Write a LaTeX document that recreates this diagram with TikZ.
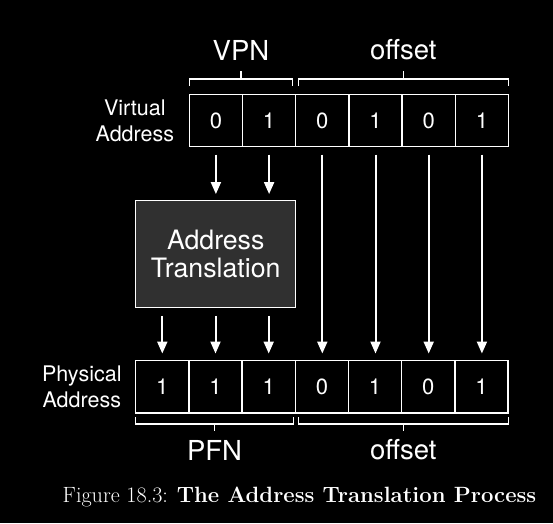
\documentclass[tikz,border=0pt]{standalone}
\usepackage{fontspec}
\newfontfamily\helv{TeX Gyre Heros}
\usetikzlibrary{arrows.meta,positioning}
\definecolor{boxgray}{HTML}{303030}

\begin{document}
\begin{tikzpicture}[x=1pt,y=-1pt,
		bit/.style={draw=white,line width=1.3pt,outer sep=0pt,minimum width=53.2pt,minimum height=52.4pt,inner sep=0pt,text=white,font=\helv\fontsize{22}{22}\selectfont},
		side/.style={text=white,align=center,inner sep=0pt,font=\helv\fontsize{21.5}{26}\selectfont},
		field/.style={text=white,font=\helv\fontsize{27.5}{27.5}\selectfont},
		brace/.style={draw=white,line width=1.3pt},
		flow/.style={draw=white,line width=2pt,-{Triangle[length=12pt,width=10pt]}}]
		
		\fill[black] (0,0) rectangle (553,523);
		\useasboundingbox (0,0) rectangle (553,523);
		
		% virtual address
		\node[bit] (v1) at (215.9,120.5) {0};
		\node[bit,right=0pt of v1] (v2) {1};
		\node[bit,right=0pt of v2] (v3) {0};
		\node[bit,right=0pt of v3] (v4) {1};
		\node[bit,right=0pt of v4] (v5) {0};
		\node[bit,right=0pt of v5] (v6) {1};
		\node[side,left=15pt of v1] (va) {Virtual\\Address};
		
		% physical address
		\node[bit] (p1) at (162.3,386.7) {1};
		\node[bit,right=0pt of p1] (p2) {1};
		\node[bit,right=0pt of p2] (p3) {1};
		\node[bit,right=0pt of p3] (p4) {0};
		\node[bit,right=0pt of p4] (p5) {1};
		\node[bit,right=0pt of p5] (p6) {0};
		\node[bit,right=0pt of p6] (p7) {1};
		\node[side,left=14pt of p1] (pa) {Physical\\Address};
		
		% translation box
		\node[draw=white,line width=1.3pt,fill=boxgray,minimum width=160pt,minimum height=106.6pt,text=white,align=center,
		font=\helv\fontsize{26.7}{28}\selectfont] (tr) at (215.7,254) {Address\\Translation};
		
		% brackets
		\draw[brace] (189.3,86) -- (189.3,79) -- (292.7,79) -- (292.7,86);
		\draw[brace] (241,79) -- (241,71);
		\draw[brace] (298.3,86) -- (298.3,79) -- (508.3,79) -- (508.3,86);
		\draw[brace] (403.3,79) -- (403.3,71);
		\node[field] (vpn) at (241,50) {VPN};
		\node[field] (voff) at (403.3,50) {offset};
		
		\draw[brace] (135.7,417) -- (135.7,424) -- (293.3,424) -- (293.3,417);
		\draw[brace] (214.5,424) -- (214.5,431);
		\draw[brace] (298.3,417) -- (298.3,424) -- (508.3,424) -- (508.3,417);
		\draw[brace] (403.3,424) -- (403.3,431);
		\node[field] (pfn) at (214.5,450) {PFN};
		\node[field] (poff) at (403.3,450) {offset};
		
		% arrows
		\draw[flow,shorten <=8pt,shorten >=6pt] (v1.south) -- (v1 |- tr.north);
		\draw[flow,shorten <=8pt,shorten >=6pt] (v2.south) -- (v2 |- tr.north);
		\draw[flow,shorten <=8pt,shorten >=7pt] (v3.south) -- (v3.south |- p4.north);
		\draw[flow,shorten <=8pt,shorten >=7pt] (v4.south) -- (v4.south |- p5.north);
		\draw[flow,shorten <=8pt,shorten >=7pt] (v5.south) -- (v5.south |- p6.north);
		\draw[flow,shorten <=8pt,shorten >=7pt] (v6.south) -- (v6.south |- p7.north);
		\draw[flow,shorten <=8pt,shorten >=7pt] (p1 |- tr.south) -- (p1.north);
		\draw[flow,shorten <=8pt,shorten >=7pt] (p2 |- tr.south) -- (p2.north);
		\draw[flow,shorten <=8pt,shorten >=7pt] (p3 |- tr.south) -- (p3.north);
		
		\node[text=white,font=\fontsize{22.1}{22}\selectfont] (cap) at (299.5,497) {Figure 18.3: \textbf{The Address Translation Process}};
		\end{tikzpicture}
\end{document}
